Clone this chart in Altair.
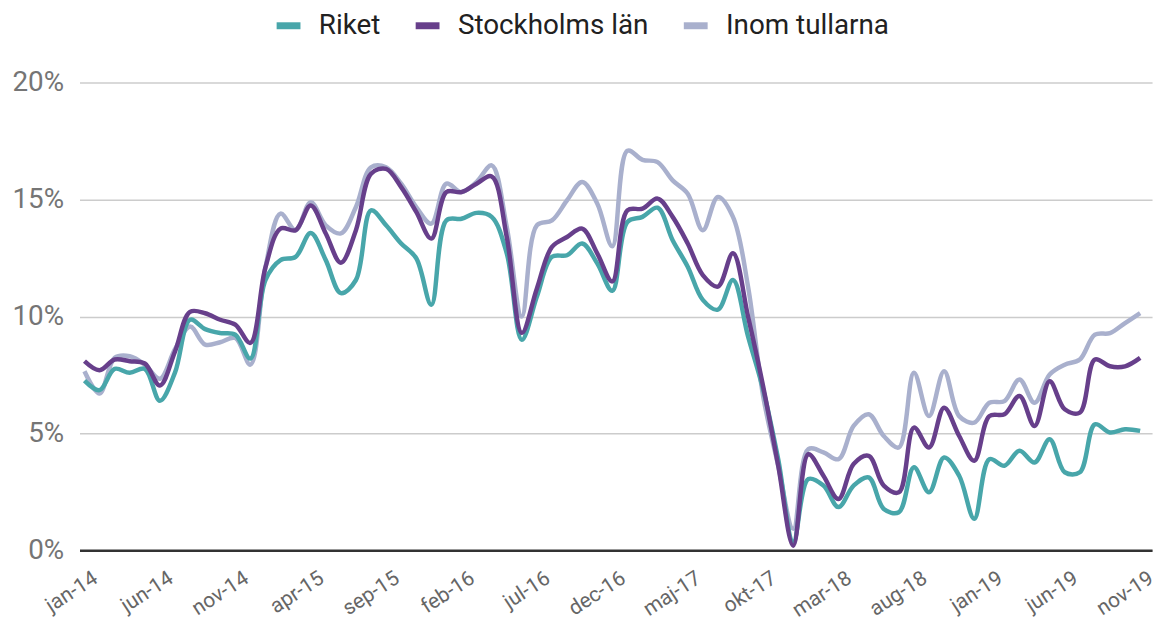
import altair as alt
import pandas as pd

tick_labels = ["jan-14", "jun-14", "nov-14", "apr-15", "sep-15", "feb-16", "jul-16",
               "dec-16", "maj-17", "okt-17", "mar-18", "aug-18", "jan-19", "jun-19", "nov-19"]

series_names = ["Riket", "Stockholms län", "Inom tullarna"]
series_colors = ["#48a6aa", "#673f8b", "#a9b0cd"]

riket = [7.26, 6.85, 7.76, 7.59, 7.76, 6.40, 7.60, 9.86, 9.46, 9.29, 9.22, 8.20,
         11.56, 12.41, 12.55, 13.57, 12.41, 11.00, 11.56, 14.54, 13.90, 13.12, 12.49, 10.50,
         14.11, 14.18, 14.43, 14.26, 12.70, 9.00, 10.85, 12.55, 12.62, 13.12, 12.27, 11.10,
         14.04, 14.26, 14.65, 13.26, 12.13, 10.71, 10.29, 11.56, 9.15, 6.88, 3.90, 0.37,
         3.05, 2.77, 1.85, 2.77, 3.12, 1.77, 1.63, 3.55, 2.48, 3.97, 3.19, 1.35,
         3.90, 3.62, 4.26, 3.76, 4.75, 3.34, 3.34, 5.39, 5.04, 5.18, 5.11]

stockholm = [8.09, 7.70, 8.16, 8.09, 7.99, 7.05, 8.50, 10.20, 10.14, 9.86, 9.65, 8.87,
             12.10, 13.76, 13.69, 14.75, 13.55, 12.30, 13.69, 16.10, 16.31, 15.53, 14.47, 13.33,
             15.32, 15.32, 15.68, 15.99, 13.40, 9.30, 11.20, 12.98, 13.40, 13.76, 12.70, 11.50,
             14.54, 14.61, 15.04, 14.26, 13.12, 11.77, 11.28, 12.70, 10.00, 7.02, 3.62, 0.20,
             4.11, 3.19, 2.20, 3.69, 4.04, 2.77, 2.48, 5.25, 4.40, 6.10, 4.89, 3.83,
             5.74, 5.82, 6.60, 5.32, 7.23, 6.03, 5.89, 8.16, 7.87, 7.87, 8.23]

inom = [7.66, 6.71, 8.23, 8.30, 7.94, 7.34, 8.60, 9.57, 8.80, 8.90, 9.08, 7.94,
        12.10, 14.40, 13.69, 14.89, 13.90, 13.55, 14.68, 16.38, 16.38, 15.68, 14.68, 13.97,
        15.68, 15.32, 15.75, 16.46, 13.83, 10.00, 13.90, 14.11, 14.97, 15.75, 14.83, 13.00,
        17.09, 16.70, 16.60, 15.82, 15.25, 13.69, 15.11, 14.26, 11.28, 6.60, 3.62, 0.92,
        4.33, 4.19, 3.90, 5.32, 5.82, 4.89, 4.40, 7.59, 5.74, 7.66, 5.74, 5.46,
        6.31, 6.38, 7.31, 6.31, 7.52, 7.94, 8.16, 9.22, 9.29, 9.72, 10.14]

rows = []
for name, vals in [("Inom tullarna", inom), ("Riket", riket), ("Stockholms län", stockholm)]:
    for i, v in enumerate(vals):
        rows.append({"i": i, "serie": name, "v": v})
df = pd.DataFrame(rows)

label_js = "[" + ",".join("'" + l + "'" for l in tick_labels) + "]"

chart = alt.Chart(df).mark_line(interpolate="catmull-rom", strokeWidth=4.5).encode(
    x=alt.X("i:Q",
            scale=alt.Scale(domain=[-0.33, 70.79], nice=False, zero=False),
            axis=alt.Axis(values=list(range(0, 71, 5)),
                          labelExpr=label_js + "[datum.value/5]",
                          title=None, grid=False, ticks=False,
                          domainColor="#333333", domainWidth=2.5,
                          labelAngle=-33, labelAlign="right", labelBaseline="middle",
                          labelFontSize=21, labelColor="#666666", labelPadding=26,
                          labelOffset=11,
                          labelFont="Roboto", labelOverlap=False)),
    y=alt.Y("v:Q",
            scale=alt.Scale(domain=[0, 20], nice=False),
            axis=alt.Axis(values=[0, 5, 10, 15, 20],
                          labelExpr="datum.value + '%'",
                          title=None, domain=False, ticks=False,
                          gridColor="#cccccc", gridWidth=1.5,
                          labelFontSize=28, labelColor="#757575", labelPadding=16,
                          labelFont="Roboto")),
    color=alt.Color("serie:N",
                    scale=alt.Scale(domain=series_names, range=series_colors),
                    legend=alt.Legend(orient="none", legendX=195, legendY=-73,
                                      direction="horizontal", title=None,
                                      symbolType="stroke", symbolStrokeWidth=7,
                                      symbolSize=576, labelFontSize=28,
                                      labelColor="#212121", labelFont="Roboto",
                                      labelLimit=500,
                                      columnPadding=21, labelOffset=15)),
).properties(
    width=1080, height=471,
    autosize=alt.AutoSizeParams(type="none"),
    padding={"left": 72, "top": 73, "right": 8, "bottom": 70},
).configure(font="Roboto").configure_view(stroke=None)

chart.save("out.html", embed_options={"renderer": "svg", "actions": False})
